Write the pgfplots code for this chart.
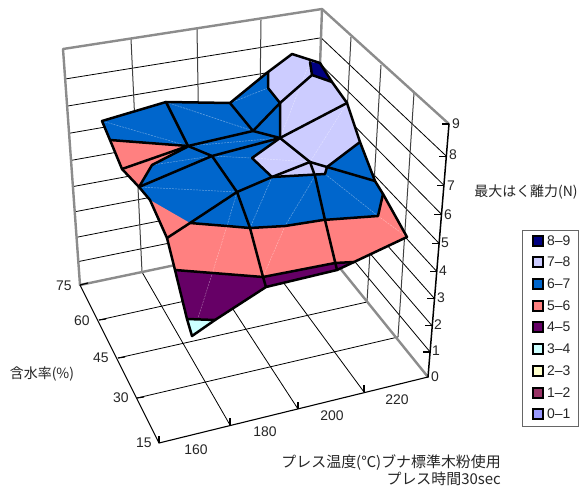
\documentclass[border=0pt]{standalone}
\usepackage{pgfplots}
\usepackage{fontspec}
\pgfplotsset{compat=1.18}
\setmainfont{Liberation Sans}
\newfontfamily\jp{Noto Sans CJK JP}
\definecolor{wallgrey}{HTML}{8C8C8C}
\definecolor{bandA}{HTML}{000080}
\definecolor{bandB}{HTML}{CCCCFF}
\definecolor{bandC}{HTML}{0066CC}
\definecolor{bandD}{HTML}{FF8080}
\definecolor{bandE}{HTML}{660066}
\definecolor{bandF}{HTML}{CCFFFF}
\definecolor{bandG}{HTML}{FFFFCC}
\definecolor{bandH}{HTML}{993366}
\definecolor{bandI}{HTML}{9999FF}
\tikzset{
  wallline/.style={wallgrey,line width=2.4bp,line cap=round,line join=round},
  gridh/.style={black,line width=0.8bp},
  gridv/.style={black!75,line width=1bp},
  frontaxis/.style={black,line width=1.1bp},
  meshline/.style={black,line width=2.5bp,line join=round,line cap=round},
  facetline/.style={white,opacity=0.4,line width=0.5bp,dash pattern=on 2bp off 1bp},
  swatch/.style={draw=black,line width=2bp},
  lab/.style={font=\fontsize{14}{16}\selectfont,inner sep=0pt,text=black!85},
  jplab/.style={font=\fontsize{15}{17}\selectfont\jp,inner sep=0pt,text=black!85},
  jpsmall/.style={font=\fontsize{14}{16}\selectfont\jp,inner sep=0pt,text=black!85},
}
\begin{document}
\begin{tikzpicture}
\begin{axis}[
  scale only axis,width=581bp,height=488bp,
  xmin=0,xmax=581,ymin=0,ymax=488,y dir=reverse,
  axis lines=none,clip=false,
]
% page background
\addplot[fill=white,draw=none] coordinates {(0,0)(581,0)(581,488)(0,488)} --cycle;

% wall grid: force levels 1..8 on both back walls
\addplot[gridh] coordinates {(78.3,261.6)(314.8,213.5)(430.1,352)};
\addplot[gridh] coordinates {(76.6,237.3)(315.6,190.1)(432.2,325.9)};
\addplot[gridh] coordinates {(74.7,211.8)(316.5,165.6)(434.5,298.6)};
\addplot[gridh] coordinates {(72.9,186.6)(317.3,141.3)(436.8,271.5)};
\addplot[gridh] coordinates {(71,160.4)(318.2,116.1)(439.1,243.4)};
\addplot[gridh] coordinates {(69.1,133.3)(319.1,90)(441.5,214.3)};
\addplot[gridh] coordinates {(67.1,106.1)(320.1,63.9)(443.9,185.2)};
\addplot[gridh] coordinates {(65.2,79)(321,37.8)(446.3,156.1)};
% wall grid: verticals
\addplot[gridv] coordinates {(131,39)(142,272)};
\addplot[gridv] coordinates {(197,29)(201,260)};
\addplot[gridv] coordinates {(261,20)(258,248)};
\addplot[gridv] coordinates {(351,37)(339,267)};
\addplot[gridv] coordinates {(381,65)(367,302)};
\addplot[gridv] coordinates {(414,93)(398,337)};
% floor grid
\addplot[gridh] coordinates {(230,425)(142,272)};
\addplot[gridh] coordinates {(298,409)(201,260)};
\addplot[gridh] coordinates {(364,392)(258,248)};
\addplot[gridh] coordinates {(137,398)(398,337)};
\addplot[gridh] coordinates {(118,358)(367,302)};
\addplot[gridh] coordinates {(99,320)(339,267)};
% wall frame
\addplot[wallline] coordinates {(80,285)(63,49)(322,9)(449,124)};
\addplot[wallline] coordinates {(322,9)(314,236)};
\addplot[wallline] coordinates {(80,285)(314,236)(428,377)};
% front axes and ticks
\addplot[frontaxis] coordinates {(80,285)(159,443)(428,377)};
\addplot[black,line width=1.5bp] coordinates {(428,377)(449,124)};
\addplot[frontaxis] coordinates {(159,443)(159,436)};
\addplot[frontaxis] coordinates {(230,425)(230,418)};
\addplot[frontaxis] coordinates {(298,409)(298,402)};
\addplot[frontaxis] coordinates {(364,392)(364,385)};
\addplot[frontaxis] coordinates {(137,398)(144,397)};
\addplot[frontaxis] coordinates {(118,358)(125,357)};
\addplot[frontaxis] coordinates {(99,320)(106,319)};
\addplot[frontaxis] coordinates {(80,285)(88,283)};
\addplot[frontaxis] coordinates {(430.1,352)(423,352)};
\addplot[frontaxis] coordinates {(432.2,325.9)(425,325.9)};
\addplot[frontaxis] coordinates {(434.5,298.6)(427,298.6)};
\addplot[frontaxis] coordinates {(436.8,271.5)(430,271.5)};
\addplot[frontaxis] coordinates {(439.1,243.4)(432,243.4)};
\addplot[frontaxis] coordinates {(441.5,214.3)(434,214.3)};
\addplot[frontaxis] coordinates {(443.9,185.2)(437,185.2)};
\addplot[frontaxis] coordinates {(446.3,156.1)(439,156.1)};
\addplot[frontaxis] coordinates {(449,124)(442,124)};

% surface bands
\addplot[fill=bandC,draw=none] coordinates {(102,121)(166,102)(230,103)(268,72)(292,54)(320,63)(332,82)(347,103)(360,142)(370,168)(375,181)(383,194)(407,237)(354,262)(337,270)(266,287)(215,320)(192,336)(187,319)(175,270)(167,238)(150,200)(139,187)(122,169)(110,140)} --cycle;
\addplot[fill=bandD,draw=none] coordinates {(110,140)(188,146)(122,169)} --cycle;
\addplot[fill=bandD,draw=none] coordinates {(122,169)(187,147)(152,165)(139,187)} --cycle;
\addplot[fill=bandD,draw=none] coordinates {(150,200)(190,223)(167,238)} --cycle;
\addplot[fill=bandD,draw=none] coordinates {(167,238)(190,223)(227,226)(250,228)(285,226)(323,220)(378,216)(383,194)(407,237)(354,262)(335,263)(263,277)(175,270)} --cycle;
\addplot[fill=bandE,draw=none] coordinates {(175,270)(263,277)(266,287)(215,320)(187,319)} --cycle;
\addplot[fill=bandE,draw=none] coordinates {(263,277)(335,263)(354,262)(337,270)(266,287)} --cycle;
\addplot[fill=bandF,draw=none] coordinates {(187,319)(215,320)(192,336)} --cycle;
\addplot[fill=bandB,draw=none] coordinates {(268,72)(292,54)(320,63)(332,82)(347,103)(360,142)(327,167)(325,174)(272,177)(252,158)(280,138)(280,103)(268,88)} --cycle;
\addplot[fill=bandA,draw=none] coordinates {(310,62)(320,63)(332,82)(312,75)} --cycle;

% pale facet diagonals
\addplot[facetline] coordinates {(102,121)(188,146)};
\addplot[facetline] coordinates {(166,102)(253,131)};
\addplot[facetline] coordinates {(230,103)(268,88)};
\addplot[facetline] coordinates {(188,146)(280,138)};
\addplot[facetline] coordinates {(152,165)(212,156)(252,158)};
\addplot[facetline] coordinates {(139,187)(237,192)};
\addplot[facetline] coordinates {(237,192)(227,226)(213,271)(198,318)};
\addplot[facetline] coordinates {(272,177)(250,228)(285,226)(263,277)};
\addplot[facetline] coordinates {(315,176)(285,226)};
\addplot[facetline] coordinates {(325,174)(378,216)};
\addplot[facetline] coordinates {(378,216)(407,237)};
\addplot[facetline] coordinates {(252,158)(310,162)};
\addplot[facetline] coordinates {(280,138)(310,62)};
\addplot[facetline] coordinates {(347,103)(310,162)};

% surface mesh and band boundaries
\addplot[meshline] coordinates {(102,121)(166,102)(230,103)(268,72)(292,54)(320,63)(332,82)(347,103)(360,142)(370,168)(375,181)(383,194)(407,237)(354,262)(337,270)(266,287)(215,320)(192,336)(187,319)(175,270)(167,238)(150,200)(139,187)(122,169)(110,140)} --cycle;
\addplot[meshline] coordinates {(110,140)(188,146)};
\addplot[meshline] coordinates {(122,169)(188,146)};
\addplot[meshline] coordinates {(139,187)(152,165)(187,147)};
\addplot[meshline] coordinates {(139,187)(212,156)};
\addplot[meshline] coordinates {(166,102)(188,146)(212,156)(280,138)};
\addplot[meshline] coordinates {(188,146)(253,131)(230,103)};
\addplot[meshline] coordinates {(253,131)(280,138)};
\addplot[meshline] coordinates {(253,131)(280,103)(280,138)};
\addplot[meshline] coordinates {(268,72)(268,88)(280,103)(312,75)(310,62)};
\addplot[meshline] coordinates {(312,75)(332,82)};
\addplot[meshline] coordinates {(280,138)(347,103)};
\addplot[meshline] coordinates {(252,158)(280,138)(310,162)};
\addplot[meshline] coordinates {(252,158)(272,177)};
\addplot[meshline] coordinates {(272,177)(310,162)};
\addplot[meshline] coordinates {(272,177)(325,174)(327,167)(360,142)};
\addplot[meshline] coordinates {(310,162)(327,167)(375,181)};
\addplot[meshline] coordinates {(310,162)(315,176)(325,220)(337,270)};
\addplot[meshline] coordinates {(212,156)(237,192)(250,228)(263,277)(266,287)};
\addplot[meshline] coordinates {(237,192)(272,177)};
\addplot[meshline] coordinates {(237,192)(190,223)};
\addplot[meshline] coordinates {(167,238)(190,223)(227,226)(250,228)(285,226)(323,220)(378,216)(383,194)};
\addplot[meshline] coordinates {(175,270)(263,277)(335,263)(354,262)};
\addplot[meshline] coordinates {(187,319)(215,320)};

% axis numbers
\node[lab] at (axis cs:456,124) {9};
\node[lab] at (axis cs:453,155) {8};
\node[lab] at (axis cs:451,186) {7};
\node[lab] at (axis cs:448,215) {6};
\node[lab] at (axis cs:445,243) {5};
\node[lab] at (axis cs:443,271) {4};
\node[lab] at (axis cs:441,298) {3};
\node[lab] at (axis cs:438,325) {2};
\node[lab] at (axis cs:436,351) {1};
\node[lab] at (axis cs:435,377) {0};
\node[lab] at (axis cs:64,286) {75};
\node[lab] at (axis cs:82,321) {60};
\node[lab] at (axis cs:101,358) {45};
\node[lab] at (axis cs:121,398) {30};
\node[lab] at (axis cs:144,443) {15};
\node[lab] at (axis cs:196,450) {160};
\node[lab] at (axis cs:265,432) {180};
\node[lab] at (axis cs:332,416) {200};
\node[lab] at (axis cs:397,400) {220};

% axis titles and note
\node[jpsmall] at (axis cs:42,374) {含水率(\%)};
\node[jpsmall] at (axis cs:526,192) {最大はく離力(N)};
\node[jplab,anchor=east] at (axis cs:501,463) {プレス温度(℃)ブナ標準木粉使用};
\node[jplab,anchor=east] at (axis cs:501,479) {プレス時間30sec};

% legend
\addplot[draw=black!60,line width=1bp,fill=white] coordinates {(522,230)(578,230)(578,426)(522,426)} --cycle;
\addplot[fill=bandA,swatch] coordinates {(533,236)(543,236)(543,246)(533,246)} --cycle;
\addplot[fill=bandB,swatch] coordinates {(533,257)(543,257)(543,267)(533,267)} --cycle;
\addplot[fill=bandC,swatch] coordinates {(533,279)(543,279)(543,289)(533,289)} --cycle;
\addplot[fill=bandD,swatch] coordinates {(533,301)(543,301)(543,311)(533,311)} --cycle;
\addplot[fill=bandE,swatch] coordinates {(533,322)(543,322)(543,332)(533,332)} --cycle;
\addplot[fill=bandF,swatch] coordinates {(533,344)(543,344)(543,354)(533,354)} --cycle;
\addplot[fill=bandG,swatch] coordinates {(533,366)(543,366)(543,376)(533,376)} --cycle;
\addplot[fill=bandH,swatch] coordinates {(533,388)(543,388)(543,398)(533,398)} --cycle;
\addplot[fill=bandI,swatch] coordinates {(533,409)(543,409)(543,419)(533,419)} --cycle;
\node[lab,anchor=west] at (axis cs:547,241) {8–9};
\node[lab,anchor=west] at (axis cs:547,262) {7–8};
\node[lab,anchor=west] at (axis cs:547,284) {6–7};
\node[lab,anchor=west] at (axis cs:547,306) {5–6};
\node[lab,anchor=west] at (axis cs:547,327) {4–5};
\node[lab,anchor=west] at (axis cs:547,349) {3–4};
\node[lab,anchor=west] at (axis cs:547,371) {2–3};
\node[lab,anchor=west] at (axis cs:547,393) {1–2};
\node[lab,anchor=west] at (axis cs:547,414) {0–1};
\end{axis}
\end{tikzpicture}
\end{document}
